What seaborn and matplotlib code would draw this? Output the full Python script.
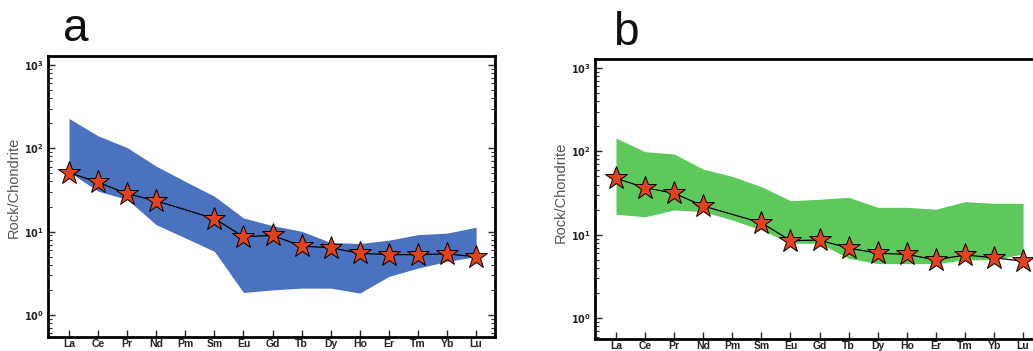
import numpy as np
import pandas as pd
import matplotlib
matplotlib.use('Agg')
import matplotlib.pyplot as plt
import matplotlib.ticker as mticker
import seaborn as sns

sns.set_style('white')
plt.rcParams['font.family'] = ['Liberation Sans', 'DejaVu Sans']

elements = ['La', 'Ce', 'Pr', 'Nd', 'Pm', 'Sm', 'Eu', 'Gd', 'Tb', 'Dy', 'Ho', 'Er', 'Tm', 'Yb', 'Lu']
# measured elements (no Pm)
star_elems = ['La', 'Ce', 'Pr', 'Nd', 'Sm', 'Eu', 'Gd', 'Tb', 'Dy', 'Ho', 'Er', 'Tm', 'Yb', 'Lu']

# panel a
a_star = [51, 39, 28.5, 23.4, 14.3, 8.7, 9.0, 6.7, 6.4, 5.5, 5.3, 5.3, 5.4, 5.0]
a_upper = [228, 141, 102, 61, 40, 26.6, 14.6, 11.8, 10.1, 7.4, 7.2, 7.9, 9.2, 9.6, 11.3]
a_lower = [52, 30.6, 24.3, 12.1, 8.4, 5.8, 1.86, 2.0, 2.1, 2.1, 1.83, 2.9, 3.65, 4.4, 5.0]

# panel b
b_star = [47.5, 36.6, 31.4, 22.1, 13.9, 8.5, 8.6, 6.9, 6.0, 5.8, 5.0, 5.7, 5.3, 4.8]
b_upper = [144, 99, 93, 61, 50, 37.7, 25.6, 26.6, 28.1, 21.3, 21.3, 20.2, 24.9, 23.8, 23.8]
b_lower = [17.6, 16.4, 19.8, 18.9, 15, 11.4, 7.9, 7.9, 5.2, 4.5, 4.5, 4.5, 5.0, 5.0, 5.9]

panels = [
    ('a', a_star, a_upper, a_lower, '#4a72be', [0.0465, 0.040, 0.4327, 0.8006], (0.545, 1282), (0.061, 0.883), 0.534),
    ('b', b_star, b_upper, b_lower, '#5cc95a', [0.576, 0.034, 0.4327, 0.798], (0.56, 1282), (0.593, 0.872), 0.525),
]

fig = plt.figure(figsize=(10.33, 3.51), dpi=100)

for letter, star, upper, lower, col, pos, ylim, lpos, ylab_y in panels:
    ax = fig.add_axes(pos)
    xi = [elements.index(e) for e in elements]
    ax.fill_between(xi, lower, upper, color=col, linewidth=0, zorder=1)

    df = pd.DataFrame({'x': [elements.index(e) for e in star_elems], 'y': star})
    sns.lineplot(data=df, x='x', y='y', ax=ax, color='black', linewidth=0.9,
                 marker='*', markersize=17, markerfacecolor='#e4421e',
                 markeredgecolor='black', markeredgewidth=0.7, zorder=3)

    ax.set_yscale('log')
    ax.set_ylim(*ylim)
    ax.set_xlim(-0.722, 14.65)
    ax.set_xticks(range(len(elements)))
    ax.set_xticklabels(elements, fontsize=7.5, fontweight='bold', color='#222222')
    ax.set_yticks([1, 10, 100, 1000])
    ax.set_yticklabels([r'$\mathbf{10^{0}}$', r'$\mathbf{10^{1}}$', r'$\mathbf{10^{2}}$', r'$\mathbf{10^{3}}$'],
                       fontsize=7, color='#222222')
    ax.yaxis.set_minor_locator(mticker.LogLocator(base=10, subs=np.arange(2, 10)))
    ax.yaxis.set_minor_formatter(mticker.NullFormatter())
    ax.tick_params(axis='y', which='major', direction='in', length=5, width=1, left=True, right=True, pad=3)
    ax.tick_params(axis='y', which='minor', direction='in', length=3, width=0.8, left=True, right=True)
    ax.tick_params(axis='x', which='major', direction='in', length=5, width=1, bottom=True, top=False, pad=1.5)
    ax.set_xlabel('')
    ax.set_ylabel('Rock/Chondrite', fontsize=10.5, color='#555555')
    ax.yaxis.set_label_coords(-0.062, ylab_y)
    for sp in ax.spines.values():
        sp.set_linewidth(2)
        sp.set_color('black')
    fig.text(lpos[0], lpos[1], letter, fontsize=33, ha='left', va='baseline', color='#111111')

fig.savefig('out.png', dpi=100)
